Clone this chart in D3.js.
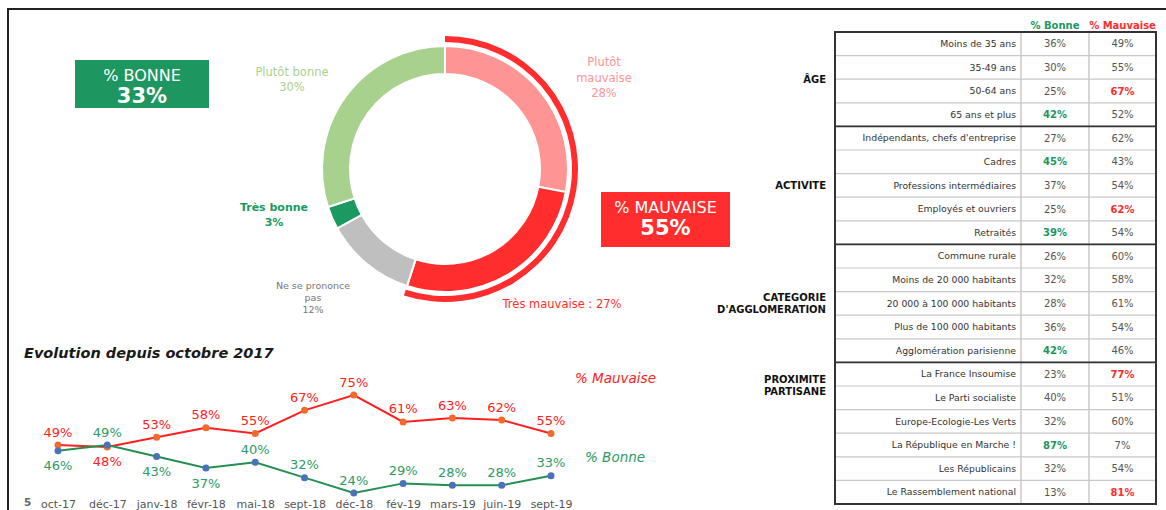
<!DOCTYPE html>
<html>
<head>
<meta charset="utf-8">
<script src="https://cdn.jsdelivr.net/npm/d3@7"></script>
<style>
  body { margin: 0; background: #fff; }
  svg { display: block; font-family: "DejaVu Sans", Verdana, sans-serif; }
</style>
</head>
<body>
<div id="chart"></div>
<script>
// Données du donut
const donutLabels = ["Plutôt mauvaise", "Très mauvaise", "Ne se prononce pas", "Très bonne", "Plutôt bonne"];
const donutValues = [28, 27, 12, 3, 30];
const donutColors = ["#ff9494", "#ff2d2d", "#bfbfbf", "#1a9960", "#a9d18e"];
const totalBonne = 33;
const totalMauvaise = 55;

// Evolution depuis octobre 2017
const months = ["oct-17", "déc-17", "janv-18", "févr-18", "mai-18", "sept-18", "déc-18", "fév-19", "mars-19", "juin-19", "sept-19"];
const mauvaise = [49, 48, 53, 58, 55, 67, 75, 61, 63, 62, 55];
const bonne = [46, 49, 43, 37, 40, 32, 24, 29, 28, 28, 33];
const mauvaiseLabelPos = ["up", "down", "up", "up", "up", "up", "up", "up", "up", "up", "up"];
const bonneLabelPos = ["down", "up", "down", "down", "up", "up", "up", "up", "up", "up", "up"];

// Tableau
const groups = [["ÂGE"], ["ACTIVITE"], ["CATEGORIE", "D'AGGLOMERATION"], ["PROXIMITE", "PARTISANE"]];
const rowLabels = [
    "Moins de 35 ans", "35-49 ans", "50-64 ans", "65 ans et plus",
    "Indépendants, chefs d'entreprise", "Cadres", "Professions intermédiaires", "Employés et ouvriers", "Retraités",
    "Commune rurale", "Moins de 20 000 habitants", "20 000 à 100 000 habitants", "Plus de 100 000 habitants", "Agglomération parisienne",
    "La France Insoumise", "Le Parti socialiste", "Europe-Ecologie-Les Verts", "La République en Marche !", "Les Républicains", "Le Rassemblement national"
];
const rowGroup = [0, 0, 0, 0, 1, 1, 1, 1, 1, 2, 2, 2, 2, 2, 3, 3, 3, 3, 3, 3];
const rowBonne = [36, 30, 25, 42, 27, 45, 37, 25, 39, 26, 32, 28, 36, 42, 23, 40, 32, 87, 32, 13];
const rowMauvaise = [49, 55, 67, 52, 62, 43, 54, 62, 54, 60, 58, 61, 54, 46, 77, 51, 60, 7, 54, 81];
const hiBonne = [0, 0, 0, 1, 0, 1, 0, 0, 1, 0, 0, 0, 0, 1, 0, 0, 0, 1, 0, 0];
const hiMauvaise = [0, 0, 1, 0, 0, 0, 0, 1, 0, 0, 0, 0, 0, 0, 1, 0, 0, 0, 0, 1];

const GREEN = "#1e9660", RED = "#ff2d2d";

const svg = d3.select("#chart").append("svg")
    .attr("width", 1166)
    .attr("height", 510);

// Cadre
svg.append("path")
    .attr("d", "M8,510 L8,9 L1166,9")
    .attr("fill", "none")
    .attr("stroke", "#222")
    .attr("stroke-width", 2);

// ---------- Donut ----------
const cx = 445, cy = 169;
const pie = d3.pie().value(d => d).sort(null);
const arcs = pie(donutValues);
const arc = d3.arc().innerRadius(95).outerRadius(123);

const gDonut = svg.append("g").attr("transform", `translate(${cx},${cy})`);
gDonut.selectAll("path.slice")
    .data(arcs)
    .enter()
    .append("path")
    .attr("class", "slice")
    .attr("d", arc)
    .attr("fill", (d, i) => donutColors[i])
    .attr("stroke", "#fff")
    .attr("stroke-width", 2);

// arc extérieur pour % mauvaise
const outerArc = d3.arc().innerRadius(127).outerRadius(133)
    .startAngle(0)
    .endAngle(arcs[1].endAngle);
gDonut.append("path").attr("d", outerArc()).attr("fill", RED);

// étiquettes du donut
const donutText = (lines, x, y, color, size, weight, step) => {
    const t = svg.append("text")
        .attr("text-anchor", "middle")
        .attr("fill", color)
        .attr("font-size", size)
        .attr("font-weight", weight);
    lines.forEach((l, i) => {
        t.append("tspan").attr("x", x).attr("y", y + i * step).attr("dy", "0.35em").text(l);
    });
};
donutText(["Plutôt bonne", donutValues[4] + "%"], 292, 72, "#a9d18e", 11.5, "normal", 15);
donutText(["Plutôt", "mauvaise", donutValues[0] + "%"], 604, 62, "#ff9494", 11.5, "normal", 15.5);
donutText(["Très bonne", donutValues[3] + "%"], 274, 207, "#1a9960", 11, "bold", 15);
donutText(["Ne se prononce", "pas", donutValues[2] + "%"], 313, 286, "#777", 9.5, "normal", 12);
donutText(["Très mauvaise : " + donutValues[1] + "%"], 562, 304, RED, 11.5, "normal", 15);

// Encadrés
const box = (x, y, w, h, fill, l1, l2) => {
    svg.append("rect").attr("x", x).attr("y", y).attr("width", w).attr("height", h).attr("fill", fill);
    svg.append("text").attr("x", x + w / 2).attr("y", y + 15).attr("dy", "0.35em")
        .attr("text-anchor", "middle").attr("fill", "#fff").attr("font-size", 16).text(l1);
    svg.append("text").attr("x", x + w / 2).attr("y", y + 36).attr("dy", "0.35em")
        .attr("text-anchor", "middle").attr("fill", "#fff").attr("font-size", 21)
        .attr("font-weight", "bold").text(l2);
};
box(75, 60, 134, 48, GREEN, "% BONNE", totalBonne + "%");
box(601, 192, 129, 55, RED, "% MAUVAISE", totalMauvaise + "%");

// ---------- Evolution ----------
svg.append("text")
    .attr("x", 24).attr("y", 358)
    .attr("font-size", 14.5).attr("font-weight", "bold").attr("font-style", "italic")
    .attr("fill", "#1a1a1a")
    .text("Evolution depuis octobre 2017");

const x = d3.scalePoint().domain(months).range([58, 551]);
const y = d3.scaleLinear().domain([24, 75]).range([493, 395]);

const xAxis = svg.append("g")
    .attr("transform", "translate(0,498)")
    .call(d3.axisBottom(x).tickSize(0).tickPadding(0));
xAxis.select(".domain").remove();
xAxis.selectAll("text")
    .attr("font-family", "DejaVu Sans, Verdana, sans-serif")
    .attr("font-size", 11)
    .attr("fill", "#555")
    .attr("dy", "0.71em")
    .attr("y", 2);

svg.append("text").attr("x", 24).attr("y", 506).attr("font-size", 10.5)
    .attr("font-weight", "bold").attr("fill", "#666").text("5");

const line = d3.line().x((d, i) => x(months[i])).y(d => y(d));

const drawSeries = (values, lineColor, dotColor, labelColor, pos) => {
    svg.append("path")
        .datum(values)
        .attr("d", line)
        .attr("fill", "none")
        .attr("stroke", lineColor)
        .attr("stroke-width", 2);
    svg.selectAll(null)
        .data(values)
        .enter()
        .append("circle")
        .attr("cx", (d, i) => x(months[i]))
        .attr("cy", d => y(d))
        .attr("r", 3.5)
        .attr("fill", dotColor);
    svg.selectAll(null)
        .data(values)
        .enter()
        .append("text")
        .attr("x", (d, i) => x(months[i]))
        .attr("y", (d, i) => y(d) + (pos[i] === "up" ? -13 : 15))
        .attr("dy", "0.35em")
        .attr("text-anchor", "middle")
        .attr("font-size", 13)
        .attr("fill", labelColor)
        .text(d => d + "%");
};
drawSeries(mauvaise, "#ff1f1f", "#f26b2a", "#ff2020", mauvaiseLabelPos);
drawSeries(bonne, "#239052", "#4a72b8", "#2e9a66", bonneLabelPos);

svg.append("text").attr("x", 575).attr("y", 383)
    .attr("font-size", 13.5).attr("font-style", "italic").attr("fill", "#ff2020").text("% Mauvaise");
svg.append("text").attr("x", 585).attr("y", 462)
    .attr("font-size", 13.5).attr("font-style", "italic").attr("fill", "#2e9a66").text("% Bonne");

// ---------- Tableau ----------
const tLeft = 835, c1 = 1021, c2 = 1089, tRight = 1156;
const rowY = d3.scaleBand().domain(d3.range(rowLabels.length)).range([32, 504]);
const rh = rowY.bandwidth();

const gT = svg.append("g");

// en-têtes
gT.append("text").attr("x", (c1 + c2) / 2).attr("y", 25).attr("dy", "0.35em")
    .attr("text-anchor", "middle").attr("font-size", 10).attr("font-weight", "bold")
    .attr("fill", GREEN).text("% Bonne");
gT.append("text").attr("x", (c2 + tRight) / 2).attr("y", 25).attr("dy", "0.35em")
    .attr("text-anchor", "middle").attr("font-size", 10).attr("font-weight", "bold")
    .attr("fill", RED).text("% Mauvaise");

// lignes fines
gT.selectAll("line.row")
    .data(d3.range(1, rowLabels.length))
    .enter()
    .append("line")
    .attr("x1", tLeft).attr("x2", tRight)
    .attr("y1", i => rowY(i)).attr("y2", i => rowY(i))
    .attr("stroke", "#c8c8c8").attr("stroke-width", 1.2);

[c1, c2].forEach(cx => {
    gT.append("line").attr("x1", cx).attr("x2", cx).attr("y1", 32).attr("y2", 504)
        .attr("stroke", "#c8c8c8").attr("stroke-width", 1.5);
});

// séparateurs de groupes
const groupStarts = d3.range(1, rowLabels.length).filter(i => rowGroup[i] !== rowGroup[i - 1]);
groupStarts.forEach(i => {
    gT.append("line").attr("x1", tLeft).attr("x2", tRight)
        .attr("y1", rowY(i)).attr("y2", rowY(i))
        .attr("stroke", "#333").attr("stroke-width", 1.6);
});

gT.append("rect").attr("x", tLeft).attr("y", 32).attr("width", tRight - tLeft).attr("height", 504 - 32)
    .attr("fill", "none").attr("stroke", "#333").attr("stroke-width", 2);

// libellés des lignes et valeurs
rowLabels.forEach((lab, i) => {
    const yc = rowY(i) + rh / 2;
    gT.append("text").attr("x", c1 - 5).attr("y", yc).attr("dy", "0.35em")
        .attr("text-anchor", "end").attr("font-size", 9.3).attr("fill", "#333").text(lab);
    gT.append("text").attr("x", (c1 + c2) / 2).attr("y", yc).attr("dy", "0.35em")
        .attr("text-anchor", "middle").attr("font-size", 10)
        .attr("font-weight", hiBonne[i] ? "bold" : "normal")
        .attr("fill", hiBonne[i] ? GREEN : "#555").text(rowBonne[i] + "%");
    gT.append("text").attr("x", (c2 + tRight) / 2).attr("y", yc).attr("dy", "0.35em")
        .attr("text-anchor", "middle").attr("font-size", 10)
        .attr("font-weight", hiMauvaise[i] ? "bold" : "normal")
        .attr("fill", hiMauvaise[i] ? RED : "#555").text(rowMauvaise[i] + "%");
});

// libellés des groupes
groups.forEach((lines, g) => {
    const idx = rowGroup.map((r, i) => r === g ? i : -1).filter(i => i >= 0);
    const top = rowY(idx[0]), bottom = rowY(idx[idx.length - 1]) + rh;
    // le dernier groupe est placé en haut
    const yc = g === 3 ? top + 17 : (top + bottom) / 2 - (lines.length - 1) * 6;
    lines.forEach((l, k) => {
        gT.append("text").attr("x", 826).attr("y", yc + k * 12.5).attr("dy", "0.35em")
            .attr("text-anchor", "end").attr("font-size", 10).attr("font-weight", "bold")
            .attr("fill", "#111").text(l);
    });
});
</script>
</body>
</html>
